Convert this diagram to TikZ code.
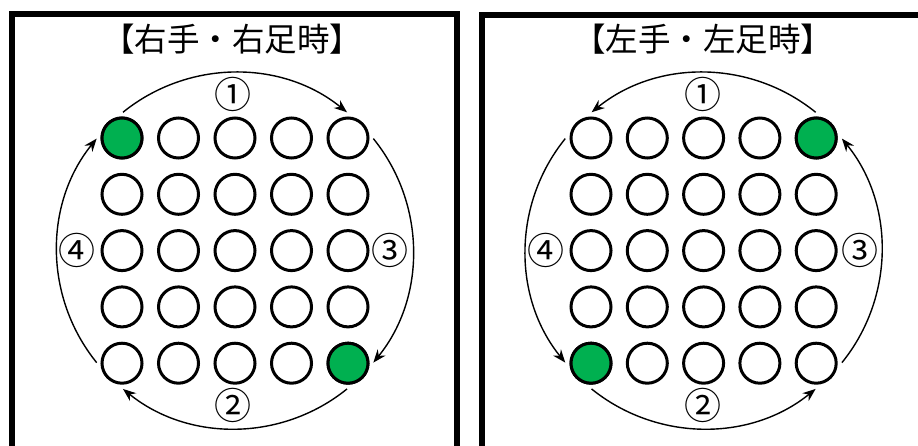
\documentclass[tikz,border=0pt]{standalone}
\usepackage{fontspec}
\setmainfont{Noto Sans CJK JP}
\usetikzlibrary{arrows.meta}
\definecolor{dotgreen}{RGB}{0,176,80}
\tikzset{
  hole/.style={circle, draw=black, line width=3pt, minimum size=40pt, inner sep=0pt, fill=white},
  holeon/.style={hole, fill=dotgreen},
  frame/.style={draw=black, line width=6pt},
  turn/.style={draw=black, line width=1.4pt, -{Stealth[length=13pt,width=10pt]}},
  title/.style={font=\fontsize{32.5}{38}\selectfont, inner sep=0pt},
  num/.style={font=\fontsize{37}{40}\selectfont, inner sep=0pt}
}
\begin{document}
\begin{tikzpicture}[x=1pt,y=-1pt]
\useasboundingbox (0,0) rectangle (918,445);
\clip (0,0) rectangle (918,445);
\fill[white] (0,0) rectangle (918,445);
% frames
\draw[frame] (12,14) rectangle (456.5,470);
\draw[frame] (482,14.5) rectangle (960,470);
% titles
\node[title] (Lt) at (232,39) {【右手・右足時】};
\node[title] (Rt) at (703,39) {【左手・左足時】};
% grids
\foreach \r in {1,...,5}{
  \foreach \c in {1,...,5}{
    \node[hole] (L-\r-\c) at ({122+56.5*(\c-1)},{138+56.3*(\r-1)}) {};
    \node[hole] (R-\r-\c) at ({591+56.3*(\c-1)},{138+56.3*(\r-1)}) {};
  }
}
\node[holeon] at (L-1-1) {};
\node[holeon] at (L-5-5) {};
\node[holeon] at (R-1-5) {};
\node[holeon] at (R-5-1) {};
% arc centres
\coordinate (Lc) at (L-3-3);
\coordinate (Rc) at (R-3-3);
% left arrows (clockwise on the page)
\draw[turn] ([shift={(-129:178)}]Lc) arc[start angle=-129, end angle=-51, radius=178];
\draw[turn] ([shift={(-39:178)}]Lc) arc[start angle=-39, end angle=39, radius=178];
\draw[turn] ([shift={(51:178)}]Lc) arc[start angle=51, end angle=129, radius=178];
\draw[turn] ([shift={(141:178)}]Lc) arc[start angle=141, end angle=219, radius=178];
% right arrows (counter-clockwise on the page)
\draw[turn] ([shift={(-51:178)}]Rc) arc[start angle=-51, end angle=-129, radius=178];
\draw[turn] ([shift={(39:178)}]Rc) arc[start angle=39, end angle=-39, radius=178];
\draw[turn] ([shift={(129:178)}]Rc) arc[start angle=129, end angle=51, radius=178];
\draw[turn] ([shift={(-141:178)}]Rc) arc[start angle=-141, end angle=-219, radius=178];
% labels
\node[num] (L1) at (233,94.5) {①};
\node[num] (L2) at (233,405) {②};
\node[num] (L3) at (390,250) {③};
\node[num] (L4) at (77,250) {④};
\node[num] (R1) at (703,94.5) {①};
\node[num] (R2) at (703,405) {②};
\node[num] (R3) at (860,250) {③};
\node[num] (R4) at (546,250) {④};
\end{tikzpicture}
\end{document}
